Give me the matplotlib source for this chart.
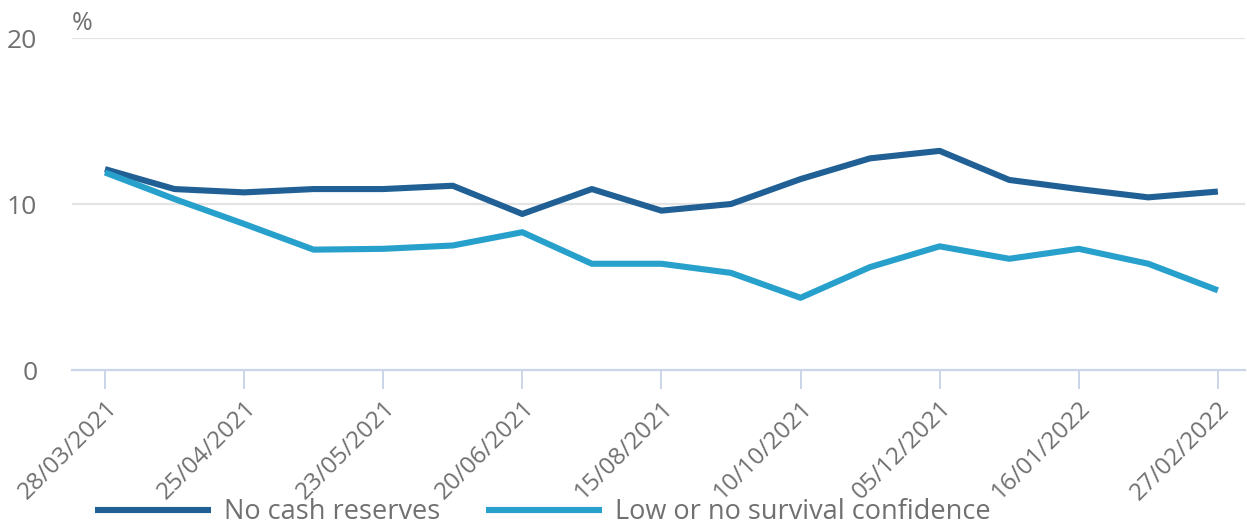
import matplotlib.pyplot as plt

# Survey periods (only every other one gets a tick label)
dates = ["28/03/2021", "11/04/2021", "25/04/2021", "09/05/2021", "23/05/2021",
         "06/06/2021", "20/06/2021", "18/07/2021", "15/08/2021", "12/09/2021",
         "10/10/2021", "07/11/2021", "05/12/2021", "26/12/2021", "16/01/2022",
         "06/02/2022", "27/02/2022"]
no_cash = [12.1, 10.9, 10.7, 10.9, 10.9, 11.1, 9.4, 10.9, 9.6, 10.0,
           11.5, 12.75, 13.2, 11.45, 10.9, 10.4, 10.75]
low_conf = [11.9, 10.3, 8.8, 7.25, 7.3, 7.5, 8.3, 6.4, 6.4, 5.85,
            4.35, 6.2, 7.45, 6.7, 7.3, 6.4, 4.8]

dark = "#206095"
light = "#27a0cc"
grey = "#707070"

plt.rcParams["font.family"] = ["Open Sans", "DejaVu Sans"]

fig = plt.figure(figsize=(12.47, 5.26), dpi=100)
ax = fig.add_axes([72 / 1247, 156 / 526, 1173 / 1247, 332 / 526])

x = list(range(len(dates)))
ax.plot(x, no_cash, color=dark, lw=4.4, solid_capstyle="butt", label="No cash reserves", zorder=3)
ax.plot(x, low_conf, color=light, lw=4.4, solid_capstyle="butt", label="Low or no survival confidence", zorder=3)

ax.set_ylim(0, 20)
ax.set_xlim(-0.474, 16.39)
ax.set_yticks([0, 10, 20])
ax.set_xticks(x[::2])
ax.set_xticklabels(dates[::2], rotation=45, ha="right", va="top", rotation_mode="anchor")

for y in (10, 20):
    ax.axhline(y, color="#e4e4e4", lw=1.6, zorder=1)

for s in ("top", "right", "left"):
    ax.spines[s].set_visible(False)
ax.spines["bottom"].set_color("#cbd5e8")
ax.spines["bottom"].set_linewidth(1.6)

ax.tick_params(axis="y", length=0, pad=25, labelsize=19, labelcolor=grey)
ax.tick_params(axis="x", length=14, width=1.4, color="#cbd5e8", pad=5,
               labelsize=17.5, labelcolor=grey)

fig.text(72 / 1247, 1 - 23 / 526, "%", fontsize=18, color=grey, va="center", ha="left")

fig.legend(loc="center left", bbox_to_anchor=(95 / 1247, 14 / 526), ncol=2,
           frameon=False, fontsize=19.5, labelcolor=grey, handlelength=4.3,
           handletextpad=0.45, columnspacing=1.7, borderpad=0, borderaxespad=0)

fig.savefig("out.png", dpi=100)
